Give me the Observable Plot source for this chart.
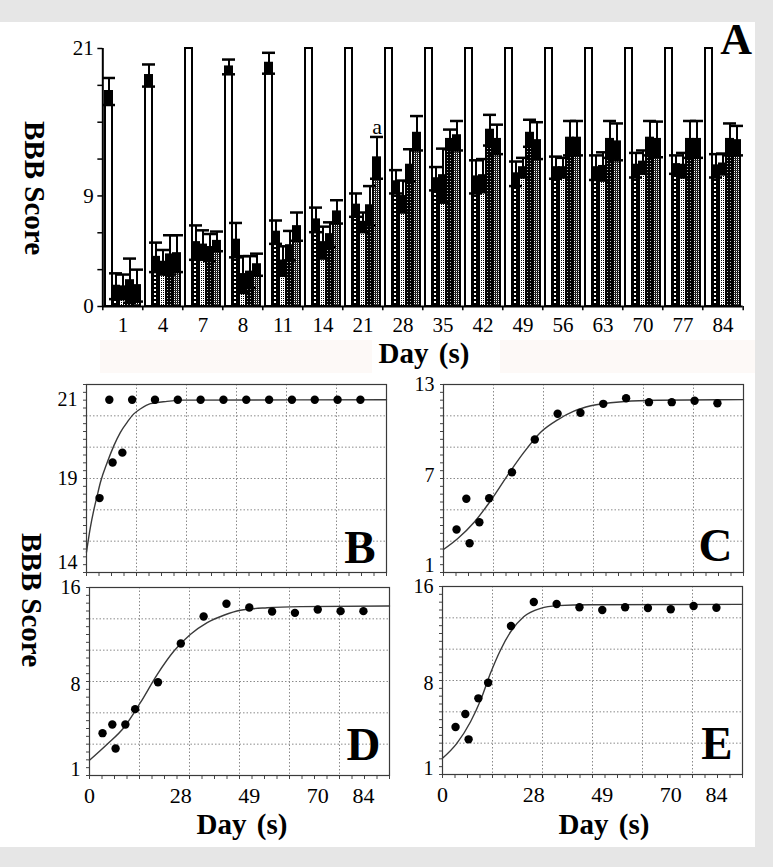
<!DOCTYPE html>
<html><head><meta charset="utf-8">
<script src="https://cdn.jsdelivr.net/npm/d3@7"></script>
<script src="https://cdn.jsdelivr.net/npm/@observablehq/plot@0.6"></script>
<style>
body{margin:0;background:#e6e6e6;}
#wrap{position:relative;width:773px;height:867px;overflow:hidden;background:#e6e6e6;}
#white{position:absolute;left:0;top:22px;width:755px;height:825px;background:#fff;}
.band{position:absolute;background:#fdf9f7;}
.lbl{position:absolute;font-family:"Liberation Serif",serif;font-weight:bold;color:#000;white-space:nowrap;line-height:1;}
.rot{transform:translate(-50%,-50%) rotate(90deg);}
svg.plot{position:absolute;overflow:visible;}
</style></head><body>
<svg width="0" height="0" style="position:absolute">
<defs>
<pattern id="pG1" width="4" height="4" patternUnits="userSpaceOnUse"><rect width="4" height="4" fill="#000"/><rect x="1" y="1" width="2" height="2" fill="#fff"/></pattern>
<pattern id="pG2" width="2" height="2" patternUnits="userSpaceOnUse"><rect width="2" height="2" fill="#fff"/><rect width="1" height="1" fill="#000"/></pattern>
<pattern id="pG3" width="3" height="3" patternUnits="userSpaceOnUse"><rect width="3" height="3" fill="#000"/><rect x="1" y="1" width="1" height="1" fill="#bbb"/></pattern>
<pattern id="pG4" width="2" height="2" patternUnits="userSpaceOnUse"><rect width="2" height="2" fill="#fff"/><rect width="1" height="2" fill="#000"/><rect width="2" height="1" fill="#333"/></pattern>
</defs></svg>
<div id="wrap">
  <div id="white"></div>
  <div class="band" style="left:100px;top:340px;width:272px;height:33px;"></div>
  <div class="band" style="left:500px;top:340px;width:255px;height:33px;"></div>
  <div class="lbl" style="right:21px;top:18px;font-size:44px;">A</div>
  <div class="lbl rot" style="left:34px;top:188px;font-size:29px;">BBB Score</div>
  <div class="lbl rot" style="left:31px;top:600px;font-size:29px;">BBB Score</div>
  <div class="lbl" style="left:424px;top:339px;font-size:29px;word-spacing:3px;transform:translateX(-50%);">Day (s)</div>
  <div class="lbl" style="left:242px;top:810px;font-size:29px;word-spacing:3px;transform:translateX(-50%);">Day (s)</div>
  <div class="lbl" style="left:604px;top:810px;font-size:29px;word-spacing:3px;transform:translateX(-50%);">Day (s)</div>
</div>
<script>
// ---------- Panel A data ----------
const days = [1, 4, 7, 8, 11, 14, 21, 28, 35, 42, 49, 56, 63, 70, 77, 84];
const groups = ["Control", "G1", "G2", "G3", "G4"];
const controlMean = [17.5, 18.8, 21, 19.5, 19.8, 21, 21, 21, 21, 21, 21, 21, 21, 21, 21, 21];
const controlErr  = [1.1, 0.9, 0, 0.6, 0.85, 0, 0, 0, 0, 0, 0, 0, 0, 0, 0, 0];
const g1Mean = [1.65, 4.0, 5.2, 5.4, 6.05, 7.05, 8.25, 10.15, 10.4, 10.55, 10.8, 11.3, 11.3, 11.5, 11.55, 11.45];
const g1Err  = [1.05, 1.2, 1.4, 1.4, 0.95, 1.0, 0.95, 0.95, 0.95, 1.35, 1.0, 0.9, 1.0, 1.0, 0.75, 0.95];
const g2Mean = [1.6, 3.6, 5.0, 2.6, 3.7, 5.2, 6.85, 8.95, 10.65, 10.65, 11.3, 11.3, 11.4, 11.75, 11.5, 11.6];
const g2Err  = [1.0, 1.0, 1.2, 1.5, 1.2, 1.3, 0.8, 1.3, 2.2, 1.35, 0.8, 0.8, 1.15, 0.95, 1.0, 0.85];
const g3Mean = [2.1, 4.2, 4.8, 2.8, 4.95, 5.85, 8.2, 11.5, 13.6, 14.35, 14.1, 13.7, 13.6, 13.7, 13.6, 13.6];
const g3Err  = [1.8, 1.6, 1.1, 1.3, 1.2, 1.0, 1.6, 1.3, 0.8, 1.25, 1.1, 1.4, 1.5, 1.4, 1.5, 1.3];
const g4Mean = [1.7, 4.3, 5.3, 3.4, 6.5, 7.7, 12.1, 14.1, 13.9, 13.6, 13.5, 13.7, 13.4, 13.6, 13.6, 13.5];
const g4Err  = [1.3, 1.5, 0.8, 0.9, 1.15, 0.95, 1.7, 1.4, 1.2, 1.2, 1.5, 1.4, 1.5, 1.45, 1.5, 1.2];
const aYTicks = [0, 3, 6, 9, 12, 15, 18, 21];
const aYLabels = [0, 9, 21];
const aNotes = [{day: 21, group: "G4", text: "a"}];
const groupFill = {Control: "#fff", G1: "url(#pG1)", G2: "url(#pG2)", G3: "url(#pG3)", G4: "url(#pG4)"};

// ---------- Panels B–E data ----------
const fitDays = [4, 7, 8, 11, 14, 21, 28, 35, 42, 49, 56, 63, 70, 77, 84];
const bScores = [18.49, 21, 19.40, 19.65, 21, 21, 21, 21, 21, 21, 21, 21, 21, 21, 21];
const cScores = [3.40, 5.43, 2.49, 3.88, 5.47, 7.19, 9.36, 11.06, 11.13, 11.72, 12.09, 11.83, 11.83, 11.92, 11.76];
const dScores = [3.99, 4.71, 2.73, 4.71, 5.97, 8.19, 11.38, 13.61, 14.66, 14.35, 14.02, 13.91, 14.19, 14.05, 14.05];
const eScores = [4.42, 5.49, 3.40, 6.78, 8.07, 12.74, 14.72, 14.56, 14.29, 14.06, 14.29, 14.23, 14.12, 14.39, 14.25];
const bCurveDays = [0, 1.2, 2.2, 3.3, 4.3, 6.4, 8.4, 10.4, 12.5, 14.5, 16.6, 19.6, 24.7, 29.8, 92];
const bCurveVals = [17.11, 17.75, 18.17, 18.56, 18.90, 19.41, 19.83, 20.17, 20.43, 20.64, 20.77, 20.90, 20.96, 20.99, 21.0];
const cCurveDays = [0, 4.3, 9.4, 14.5, 19.6, 24.7, 29.8, 35, 40, 45.2, 55.4, 65.6, 92];
const cCurveVals = [2.07, 2.78, 3.88, 5.32, 6.97, 8.52, 9.84, 10.66, 11.23, 11.59, 11.87, 11.96, 12.0];
const dCurveDays = [0, 5.4, 10.5, 15.6, 20.8, 25.9, 31.0, 36.1, 41.2, 46.3, 54.5, 64.7, 92];
const dCurveVals = [1.75, 3.07, 4.44, 6.50, 8.84, 10.76, 12.14, 13.10, 13.71, 14.12, 14.33, 14.42, 14.47];
const eCurveDays = [0, 4.4, 8.6, 11.7, 14.7, 17.8, 20.9, 24.9, 30.1, 35.2, 45.4, 92];
const eCurveVals = [1.84, 3.07, 4.85, 6.64, 8.84, 10.77, 12.27, 13.51, 14.2, 14.42, 14.5, 14.53];
const fitXTicks = [0, 28, 49, 70, 84];
const bYTicks = [21, 19], bExtraLabel = "14";
const cYTicks = [13, 7, 1];
const dYTicks = [16, 8, 1];
const eYTicks = [16, 8, 1];

const wrap = document.getElementById("wrap");
const baseStyle = {fontFamily: "'Liberation Serif', serif", fontSize: "21px", background: "transparent", color: "#000", overflow: "visible"};
const panelStyle = {...baseStyle, fontSize: "20px"};

// ---------- Panel A ----------
{
  const W = 773, ml = 96, mr = 25, mt = 48, mb = 34, H = 340;
  const pin = 0.13, pout = pin / 2;
  const step = (W - ml - mr) / (days.length - pin + 2 * pout);
  const gap = step * pin, xbw = step * (1 - pin) / groups.length;
  const edge = -(xbw / 2 + gap / 2);
  const means = [controlMean, g1Mean, g2Mean, g3Mean, g4Mean];
  const errs = [controlErr, g1Err, g2Err, g3Err, g4Err];
  const rows = days.flatMap((day, i) => groups.map((group, j) => ({day, group, mean: means[j][i], err: errs[j][i]})));
  const errRows = rows.filter(r => r.err > 0);
  const notes = aNotes.map(n => { const r = rows.find(r => r.day === n.day && r.group === n.group); return {...n, y: r.mean + r.err}; });
  const svg = Plot.plot({
    width: W, height: H, marginLeft: ml, marginRight: mr, marginTop: mt, marginBottom: mb,
    style: baseStyle,
    fx: {domain: days, paddingInner: pin, paddingOuter: pout, axis: "bottom", label: null, tickSize: 0, tickPadding: 11},
    x: {domain: groups, padding: 0, axis: null},
    y: {domain: [0, 21], axis: null},
    marks: [
      ...groups.map(g => Plot.barY(rows.filter(r => r.group === g), {fx: "day", x: "group", y1: 0, y2: "mean", fill: groupFill[g], stroke: "#000", strokeWidth: 2})),
      Plot.barY(errRows, {fx: "day", x: "group", y1: d => d.mean - d.err, y2: "mean", fill: "#000", insetLeft: 1, insetRight: 1}),
      Plot.ruleX(errRows, {fx: "day", x: "group", y1: d => d.mean - d.err, y2: d => d.mean + d.err, stroke: "#000", strokeWidth: 2}),
      Plot.tickY(errRows, {fx: "day", x: "group", y: d => d.mean + d.err, stroke: "#000", strokeWidth: 2.5, insetLeft: -3, insetRight: -3}),
      Plot.tickY(errRows, {fx: "day", x: "group", y: d => d.mean - d.err, stroke: "#000", strokeWidth: 2.5, insetLeft: -3, insetRight: -3}),
      Plot.ruleY([0], {stroke: "#000", strokeWidth: 2, insetLeft: -gap / 2, insetRight: -gap / 2}),
      Plot.ruleX([days[0]], {fx: d => d, x: () => groups[0], y1: 0, y2: 21, dx: edge, stroke: "#000", strokeWidth: 2}),
      Plot.ruleX(days, {fx: d => d, x: () => groups[0], y1: 0, y2: -0.35, dx: edge, stroke: "#000", strokeWidth: 1.5}),
      Plot.ruleX([days[days.length - 1]], {fx: d => d, x: () => groups[groups.length - 1], y1: 0, y2: -0.35, dx: -edge, stroke: "#000", strokeWidth: 1.5}),
      Plot.axisY(aYTicks, {tickFormat: d => aYLabels.includes(d) ? String(d) : "", tickSize: 5, tickPadding: 4, dx: -gap / 2, label: null, strokeWidth: 1.5}),
      Plot.text(notes, {fx: "day", x: "group", y: "y", text: "text", lineAnchor: "bottom", dy: -3, fontSize: 22})
    ]
  });
  svg.classList.add("plot");
  svg.style.left = "0px"; svg.style.top = "0px";
  wrap.appendChild(svg);
}

// ---------- Panels B–E ----------
const xMax = 92;
const panels = [
  {letter: "B", left: 86, top: 384, yDomain: [16.59, 21.39], yTicks: bYTicks, extra: bExtraLabel, pts: bScores, cDays: bCurveDays, cVals: bCurveVals, xLabels: false, ldx: -11, ldy: -10},
  {letter: "C", left: 443, top: 384, yDomain: [0.55, 13], yTicks: cYTicks, pts: cScores, cDays: cCurveDays, cVals: cCurveVals, xLabels: false, ldx: -11, ldy: -12},
  {letter: "D", left: 89, top: 587, yDomain: [0.5, 16], yTicks: dYTicks, pts: dScores, cDays: dCurveDays, cVals: dCurveVals, xLabels: true, ldx: -9, ldy: -16},
  {letter: "E", left: 442, top: 586, yDomain: [0.5, 16], yTicks: eYTicks, pts: eScores, cDays: eCurveDays, cVals: eCurveVals, xLabels: true, ldx: -10, ldy: -16}
];
for (const p of panels) {
  const fw = 300, fh = 188, ml = 60, mr = 4, mt = 8, mb = p.xLabels ? 36 : 8;
  const [y0, y1] = p.yDomain;
  const xGrid = d3.range(1, 6).map(i => i * xMax / 6);
  const yGrid = d3.range(1, 6).map(i => y0 + i * (y1 - y0) / 6);
  const xMinor = d3.range(0, 25).map(i => i * xMax / 24);
  const yMinor = d3.range(0, 25).map(i => y0 + i * (y1 - y0) / 24);
  const pts = fitDays.map((d, i) => ({day: d, v: p.pts[i]}));
  const curve = p.cDays.map((d, i) => ({day: d, v: p.cVals[i]}));
  const marks = [
    Plot.gridX(xGrid, {stroke: "#8a8a8a", strokeOpacity: 1, strokeDasharray: "1.5,2"}),
    Plot.gridY(yGrid, {stroke: "#8a8a8a", strokeOpacity: 1, strokeDasharray: "1.5,2"}),
    Plot.axisY(yMinor, {tickSize: 3, tickFormat: () => "", label: null, stroke: "#444"}),
    Plot.axisX(xMinor, {tickSize: 4, tickFormat: () => "", label: null, stroke: "#444"}),
    Plot.axisY(p.yTicks, {tickSize: 0, tickPadding: 9, label: null}),
    Plot.line(curve, {x: "day", y: "v", stroke: "#3a3a3a", strokeWidth: 1.4, curve: "monotone-x"}),
    Plot.dot(pts, {x: "day", y: "v", r: 4.2, fill: "#000", stroke: "none"}),
    Plot.frame({stroke: "#3a3a3a", strokeWidth: 1.2}),
    Plot.text([p.letter], {frameAnchor: "bottom-right", dx: p.ldx, dy: p.ldy, lineAnchor: "bottom", textAnchor: "end", fontSize: 47, fontWeight: "bold"})
  ];
  if (p.xLabels) marks.push(Plot.axisX(fitXTicks, {tickSize: 0, tickPadding: 12, label: null, fontSize: 22}));
  if (p.extra) marks.push(Plot.text([p.extra], {frameAnchor: "bottom-left", dx: -9, dy: -10, textAnchor: "end", lineAnchor: "middle"}));
  const svg = Plot.plot({
    width: fw + ml + mr, height: fh + mt + mb, marginLeft: ml, marginRight: mr, marginTop: mt, marginBottom: mb,
    style: panelStyle,
    x: {domain: [0, xMax], label: null},
    y: {domain: p.yDomain, label: null},
    marks
  });
  svg.classList.add("plot");
  svg.style.left = (p.left - ml) + "px";
  svg.style.top = (p.top - mt) + "px";
  wrap.appendChild(svg);
}
</script>
</body></html>
